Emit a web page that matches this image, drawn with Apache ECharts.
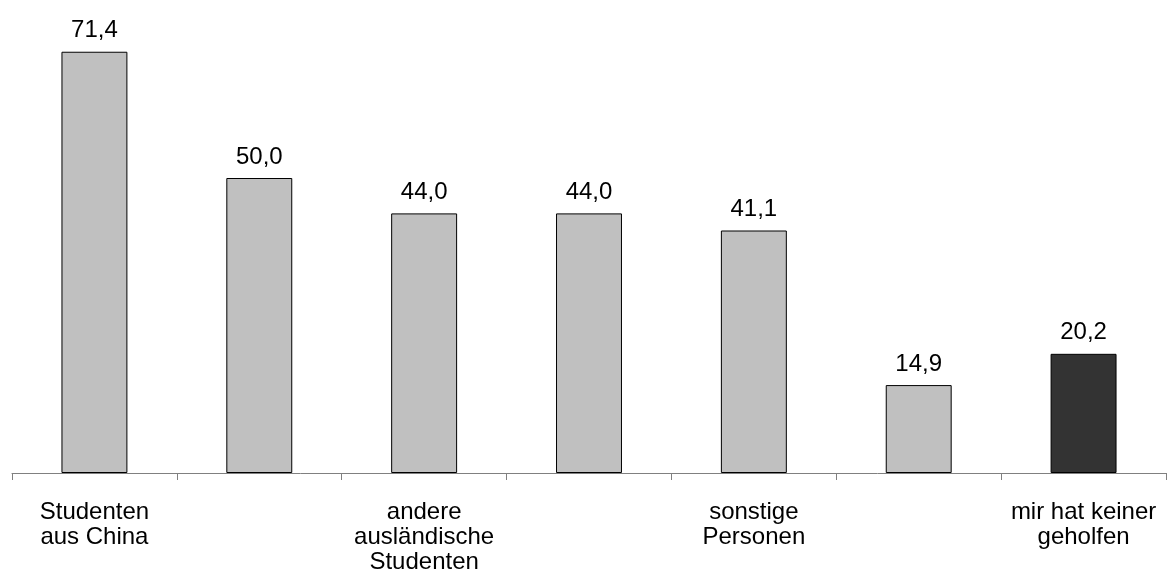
<!DOCTYPE html>
<html><head><meta charset="utf-8">
<script src="https://cdn.jsdelivr.net/npm/echarts@6/dist/echarts.min.js"></script>
<style>html,body{margin:0;padding:0;background:#fff}#c{width:1169px;height:585px}</style>
</head><body><div id="c"></div>
<script>
const categories = ["Studenten\naus China", "", "andere\nausländische\nStudenten", "", "sonstige\nPersonen", "", "mir hat keiner\ngeholfen"];
const values = [71.4, 50.0, 44.0, 44.0, 41.1, 14.9, 20.2];
const barColors = ["#C0C0C0", "#C0C0C0", "#C0C0C0", "#C0C0C0", "#C0C0C0", "#C0C0C0", "#333333"];

const chart = echarts.init(document.getElementById('c'), null, {renderer: 'canvas'});
chart.setOption({
  animation: false,
  backgroundColor: '#ffffff',
  textStyle: {fontFamily: 'Liberation Sans, Arial, sans-serif'},
  grid: {left: 12, right: 3, top: 1, bottom: 112, containLabel: false},
  xAxis: {
    type: 'category',
    data: categories,
    axisLine: {lineStyle: {color: '#808080', width: 1}},
    axisTick: {show: true, length: 7, interval: 0, alignWithLabel: false, lineStyle: {color: '#808080'}},
    axisLabel: {interval: 0, color: '#000', fontSize: 24, lineHeight: 25, margin: 27, fontFamily: 'Liberation Sans, Arial, sans-serif'}
  },
  yAxis: {
    type: 'value', min: 0, max: 80, show: false,
    splitLine: {show: false}
  },
  series: [{
    type: 'bar',
    barWidth: '40%',
    data: values.map((v, i) => ({value: v, itemStyle: {color: barColors[i]}})),
    itemStyle: {borderColor: '#000', borderWidth: 1},
    label: {
      show: true, position: 'top', distance: 9, color: '#000', fontSize: 24,
      fontFamily: 'Liberation Sans, Arial, sans-serif',
      formatter: p => p.value.toFixed(1).replace('.', ',')
    }
  }]
});
</script></body></html>
